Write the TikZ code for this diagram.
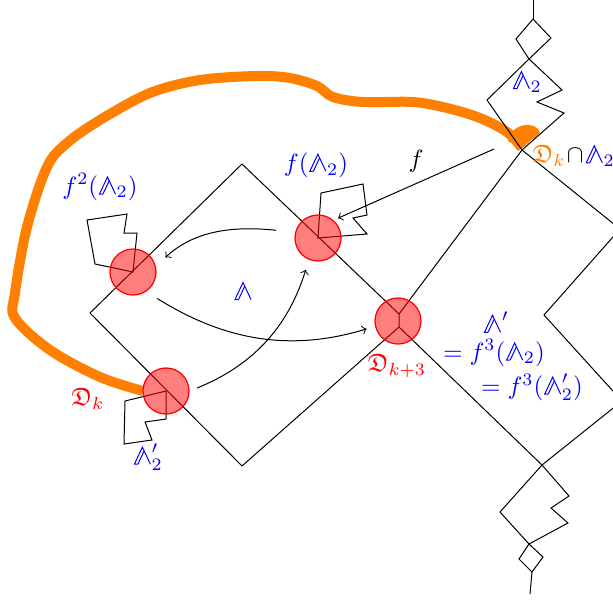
\documentclass[tikz,border=0pt]{standalone}
\usepackage{amssymb}
\usepackage{pict2e}
\usepackage{tikz}
\usepackage{xcolor}
\definecolor{myorange}{HTML}{FF8000}
\definecolor{myred}{HTML}{FF0000}
\definecolor{myblue}{HTML}{0000FF}
% double-struck Lambda
\newcommand{\bLam}{\mathord{\begingroup\setlength{\unitlength}{1pt}%
	\begin{picture}(7.4,6.83)
		\polyline(1.9,0)(0.5,0)(3.7,6.83)(6.9,0)
		\Line(1.9,0)(4.4,5.34)
	\end{picture}\endgroup}}

\begin{document}
\begin{tikzpicture}[x=0.4pt,y=-0.4pt]
	\tikzset{% style settings for disks, labels and arrows
		disk/.style={circle,minimum size=18.4pt,inner sep=0pt,fill=myred,fill opacity=0.5,draw=myred,line width=0.5pt},
		bluelabel/.style={text=myblue},
		redlabel/.style={text=myred},
		thinarrow/.style={->,thin},
		band/.style={myorange,line width=4pt}}
	\clip (0,0) rectangle (613,602);

	% the orange curve
	\coordinate (bandstart) at (143,391);
	\coordinate (bandtip) at (522,148);
	\draw[band] plot[smooth,tension=0.55] coordinates {(bandstart) (100,377) (50,350) (15,318) (15,293) (27,227) (47,167) (67,143) (100,120) (150,93) (200,80) (257,76) (290,78) (317,86) (333,97) (363,102) (413,102) (447,108) (480,118) (507,132) (bandtip)};
	\fill[myorange] (508,141) .. controls (510,124) and (536,119) .. (540,133) -- (bandtip) -- cycle;

	% big square and right part
	\draw (242,164) -- (90,313) -- (242,466) -- (399,327) -- (399,314) -- cycle;
	\draw (399,314) -- (522,150) -- (620,229) -- (544,315) -- (622,401) -- (542,465) -- (399,327);
	% top piece
	\draw (522,150) -- (487,100) -- (529,59) -- (562,90) -- (537,102) -- (564,113) -- cycle;
	\draw (529,59) -- (516,39) -- (533,19) -- (551,38) -- cycle;
	\draw (533,19) -- (533,-5);
	% bottom piece
	\draw (542,465) -- (500,512) -- (529,544) -- (568,523) -- (551,508) -- (569,496) -- cycle;
	\draw (529,544) -- (519,559) -- (532,572) -- (543,557) -- cycle;
	\draw (532,572) -- (530,594);
	% small pieces at the disks
	\draw (133,272) -- (95,264) -- (87,220) -- (127,214) -- (124,233) -- (137,233) -- cycle;
	\draw (318,238) -- (321,193) -- (363,184) -- (367,215) -- (353,218) -- (367,234) -- cycle;
	\draw (166,391) -- (125,401) -- (124,444) -- (152,440) -- (145,422) -- (166,419) -- cycle;

	\node[disk] (c1) at (133,272) {};
	\node[disk] (c2) at (318,238) {};
	\node[disk] (c3) at (398,321) {};
	\node[disk] (c4) at (166,391) {};

	\draw[thinarrow,shorten <=7.6pt,shorten >=5.2pt] (c2.166) to[out=174,in=43] (c1.14);
	\draw[thinarrow,shorten <=5.2pt,shorten >=3.5pt] (c1.-56) to[out=-32,in=197] (c3.193);
	\draw[thinarrow,shorten <=3.2pt,shorten >=4.2pt] (c4.0) to[out=22,in=253] (c2.247);
	\coordinate (fstart) at (494,149);
	\draw[thinarrow,shorten >=2pt] (fstart) -- (c2.49);

	\node[bluelabel] (toplab) at (527,82) {$\bLam_2$};
	\node[anchor=west,inner sep=0pt] (caplab) at (532,156) {$\textcolor{myorange}{\mathfrak{D}_k}\mkern1mu{\cap}\mkern1mu\textcolor{myblue}{\bLam_2}$};
	\node[bluelabel] (f2lab) at (100,187) {$f^2(\bLam_2)$};
	\node[bluelabel] (f1lab) at (316,165) {$f(\bLam_2)$};
	\node (flab) at (416,161) {$f$};
	\node[bluelabel] (lamlab) at (243,291) {$\bLam$};
	\node[redlabel] (dk3lab) at (397,366) {$\mathfrak{D}_{k+3}$};
	\node[bluelabel] (lamplab) at (496,322) {$\bLam'$};
	\node[bluelabel] (eqlab) at (494,353) {$=f^3(\bLam_2)$};
	\node[bluelabel] (eqplab) at (532,387) {$=f^3(\bLam'_2)$};
	\node[redlabel] (dklab) at (88,399) {$\mathfrak{D}_k$};
	\node[bluelabel] (lamtwolab) at (148,457) {$\bLam'_2$};
\end{tikzpicture}
\end{document}
